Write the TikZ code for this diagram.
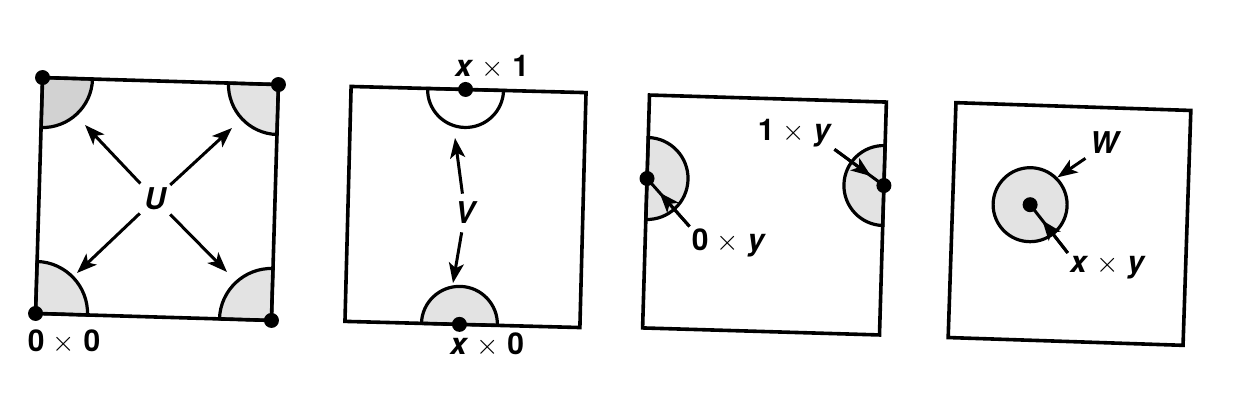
\documentclass[tikz,border=0pt]{standalone}
\usepackage{fontspec}
\setmainfont{TeX Gyre Heros}
\usetikzlibrary{arrows.meta}
\newcommand\tms{$\times$}
\begin{document}
\begin{tikzpicture}[x=0.5pt,y=0.5pt,
  sq/.style={line width=1.8pt},
  arr/.style={line width=1.5pt,-{Stealth[length=10pt,width=7.5pt,inset=2.5pt]}},
  lead/.style={line width=1.5pt},
  dot/.style={circle,fill=black,inner sep=0pt,minimum size=7.5pt},
  shade/.style={fill=gray!22,line width=1.6pt},
  lbl/.style={font=\fontsize{15}{17}\selectfont\bfseries,inner sep=1pt},
  big/.style={font=\fontsize{15}{17}\selectfont\bfseries\itshape,inner sep=2pt}]
\fill[white] (0,0) rectangle (1238,402);
\useasboundingbox (0,0) rectangle (1238,402);

% ---------- square 1 ----------
\begin{scope}[shift={(157,203)},rotate=-1.7]
  \filldraw[shade,fill=gray!35] (-118,118) -- (-68,118) arc[start angle=0,end angle=-90,radius=50] -- cycle;
  \filldraw[shade] (68,118) arc[start angle=180,end angle=270,radius=50] -- (118,118) -- cycle;
  \filldraw[shade] (-118,-118) -- (-66,-118) arc[start angle=0,end angle=90,radius=52] -- cycle;
  \filldraw[shade] (118,-118) -- (66,-118) arc[start angle=180,end angle=90,radius=52] -- cycle;
  \draw[sq] (-118,-118) -- (118,-118) -- (118,118) -- (-118,118) -- cycle;
  \node[dot] (c1tl) at (-118,118) {};
  \node[dot] (c1tr) at (118,118) {};
  \node[dot] (c1bl) at (-118,-118) {};
  \node[dot] (c1br) at (118,-118) {};
\end{scope}
\node[big] (U) at (155,203) {U};
\coordinate (u1) at (85,277);
\coordinate (u2) at (232,274);
\coordinate (u3) at (77,129);
\coordinate (u4) at (227,130);
\draw[arr] (U) -- (u1);
\draw[arr] (U) -- (u2);
\draw[arr] (U) -- (u3);
\draw[arr] (U) -- (u4);
\node[lbl] (l00) at (64,60) {0 \tms{} 0};

% ---------- square 2 ----------
\begin{scope}[shift={(465.5,195)},rotate=-1.5]
  \filldraw[fill=white,line width=1.6pt] (-41,117.5) arc[start angle=180,end angle=360,radius=38] -- cycle;
  \filldraw[shade] (35,-117.5) arc[start angle=0,end angle=180,radius=38] -- cycle;
  \draw[sq] (-117.5,-117.5) -- (117.5,-117.5) -- (117.5,117.5) -- (-117.5,117.5) -- cycle;
  \node[dot] (d2t) at (-3,117.5) {};
  \node[dot] (d2b) at (-3,-117.5) {};
\end{scope}
\node[big,inner sep=4pt] (V) at (465,189) {V};
\coordinate (v1) at (455,264);
\coordinate (v2) at (453,119);
\draw[arr] (V) -- (v1);
\draw[arr] (V) -- (v2);
\node[lbl] (lx1) at (492,335) {\textit{x} \tms{} 1};
\node[lbl] (lx0) at (487,57) {\textit{x} \tms{} 0};

% ---------- square 3 ----------
\begin{scope}[shift={(764.5,187)},rotate=-1.7]
  \filldraw[shade] (-118.5,74) arc[start angle=90,end angle=-90,radius=41] -- cycle;
  \filldraw[shade] (118.5,73) arc[start angle=90,end angle=270,radius=40] -- cycle;
  \draw[sq] (-118.5,-116.5) -- (118.5,-116.5) -- (118.5,116.5) -- (-118.5,116.5) -- cycle;
  \node[dot] (d3l) at (-118.5,33) {};
  \node[dot] (d3r) at (118.5,33) {};
\end{scope}
\node[lbl] (l1y) at (795,269) {1 \tms{} \textit{y}};
\node[lbl] (l0y) at (729,159) {0 \tms{} \textit{y}};
\draw[lead] (l0y.north west) -- (d3l.center);
\draw[arr,shorten >=5.5pt] (l0y.north west) -- (d3l);
\draw[lead] (l1y.south east) -- (d3r.center);
\draw[arr,shorten >=4pt] (l1y.south east) -- (d3r);

% ---------- square 4 ----------
\begin{scope}[shift={(1069.5,178)},rotate=-1.9]
  \draw[sq] (-117.5,-117.5) -- (117.5,-117.5) -- (117.5,117.5) -- (-117.5,117.5) -- cycle;
  \node[circle,draw,line width=1.6pt,fill=gray!22,minimum size=37pt,inner sep=0pt] (wc) at (-40,18) {};
  \node[dot] (wd) at (wc.center) {};
\end{scope}
\node[big] (W) at (1104,259) {W};
\draw[arr] (W.south west) -- (wc.45);
\node[lbl] (lxy) at (1108,135) {\textit{x} \tms{} \textit{y}};
\draw[lead] (lxy.north west) -- (wd.center);
\draw[arr,shorten >=6pt] (lxy.north west) -- (wd);
\end{tikzpicture}
\end{document}
